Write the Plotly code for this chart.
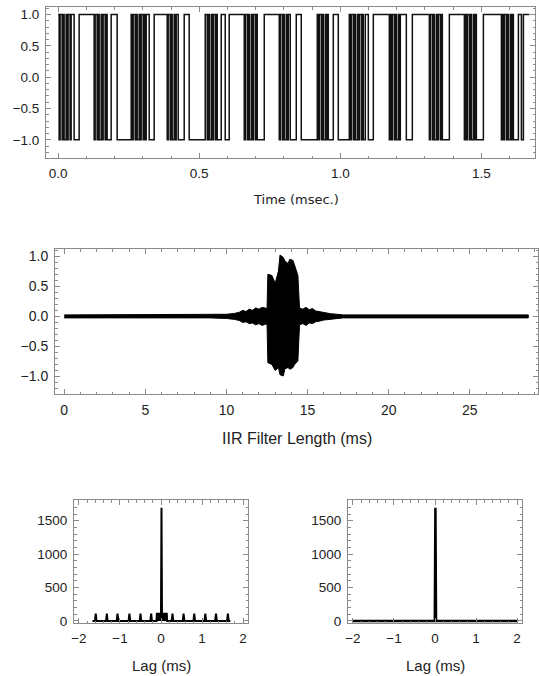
import plotly.graph_objects as go

# ---------------- data ----------------
# Top: binary excitation sequence, one character per sample (1 = +1, 0 = -1)
top_dt_ms = 0.003546
top_bits_segments = [
    "1011010010110", "111", "00000", "111111111111111",
    "01101001011010", "000", "111111", "00000000000000",
    "101101001011010", "111", "00000", "111111111111",
    "1011010010110", "00000", "11111", "000000000000000",
    "01101001011010", "000", "1111", "0000", "111111111111111",
    "01101001011010", "000000", "11111111111111",
    "1011010010110", "00000", "11111", "000000000000000",
    "010110100101", "00000", "11111", "00000000000",
    "1011010010110100", "111", "00000", "1111111111111111",
    "010110100101", "11111", "000000", "1111111111111111",
    "101101001011010", "000000", "111111111111111",
    "010110100101", "0000000", "111111111111111111",
    "010110100101", "00000", "111", "00", "111111",
]

# Middle: IIR filter impulse response envelope (ms, upper, lower)
iir_t = [0.0, 9.0, 9.5, 10.0, 10.5, 10.8, 11.0, 11.2, 11.4, 11.6, 11.8, 12.0, 12.2,
         12.4, 12.5, 12.55, 12.8, 13.0, 13.2, 13.3, 13.5, 13.6, 13.8, 13.9, 14.1,
         14.2, 14.4, 14.5, 14.7, 14.9, 15.1, 15.3, 15.5, 15.7, 16.0, 16.4, 16.8,
         17.2, 28.6]
iir_upper = [0.025, 0.025, 0.03, 0.035, 0.05, 0.07, 0.10, 0.08, 0.12, 0.10, 0.14,
             0.12, 0.15, 0.13, 0.13, 0.70, 0.68, 0.55, 0.75, 1.02, 0.98, 0.92, 0.88,
             0.95, 0.93, 0.85, 0.68, 0.14, 0.12, 0.15, 0.11, 0.13, 0.09, 0.08, 0.06,
             0.045, 0.035, 0.025, 0.025]
iir_lower = [-0.025, -0.025, -0.03, -0.035, -0.05, -0.07, -0.10, -0.09, -0.12, -0.11,
             -0.14, -0.12, -0.15, -0.13, -0.13, -0.77, -0.80, -0.90, -0.85, -0.97,
             -0.99, -0.87, -0.85, -0.88, -0.85, -0.80, -0.74, -0.14, -0.12, -0.15,
             -0.11, -0.12, -0.09, -0.08, -0.06, -0.045, -0.035, -0.025, -0.025]

# Bottom left: autocorrelation with periodic sidelobes
acf1_lag = [-1.67, -1.61, -1.59, -1.57, -1.34, -1.32, -1.30, -1.08, -1.06, -1.04,
            -0.79, -0.77, -0.75, -0.52, -0.50, -0.48, -0.26, -0.24, -0.22, -0.11,
            -0.10, 0.00, 0.012, 0.024, 0.14, 0.15, 0.26, 0.28, 0.30, 0.53, 0.55,
            0.57, 0.79, 0.81, 0.83, 1.06, 1.08, 1.10, 1.32, 1.34, 1.36, 1.61, 1.63,
            1.65, 1.69]
acf1_val = [0, 0, 110, 0, 0, 110, 0, 0, 110, 0,
            0, 110, 0, 0, 110, 0, 0, 110, 0, 0,
            110, 110, 1695, 110, 110, 0, 0, 110, 0, 0, 110,
            0, 0, 110, 0, 0, 110, 0, 0, 110, 0, 0, 110,
            0, 0]

# Bottom right: autocorrelation, single peak
acf2_lag = [-2.0, -0.005, 0.01, 0.025, 2.0]
acf2_val = [0, 0, 1695, 0, 0]

# ---------------- build series ----------------
bits = "".join(top_bits_segments)
top_t = [i * top_dt_ms for i in range(len(bits) + 1)]
top_y = [1 if b == "1" else -1 for b in bits]
top_y.append(top_y[-1])

W, H = 539, 676
FRAME = "#8a8a8a"
TXT = "#222222"


def dom_x(a, b):
    return [a / W, b / W]


def dom_y(top, bottom):
    return [1 - bottom / H, 1 - top / H]


def axis(domain, rng, dtick, minor_dtick, fmt, fsize, anchor, tick0=0):
    return dict(
        domain=domain, range=rng, dtick=dtick, tick0=tick0, tickformat=fmt,
        ticks="inside", ticklen=5, tickwidth=1, tickcolor=FRAME,
        minor=dict(dtick=minor_dtick, tick0=tick0, ticks="inside", ticklen=2.5,
                   tickwidth=1, tickcolor=FRAME, showgrid=False),
        showline=True, linecolor=FRAME, linewidth=1, mirror="ticks",
        showgrid=False, zeroline=False, anchor=anchor, automargin=False,
        tickfont=dict(family="Liberation Sans", size=fsize, color=TXT),
        ticklabelstandoff=3,
    )


fig = go.Figure()

fig.add_trace(go.Scatter(x=top_t, y=top_y, mode="lines", line_shape="hv",
                         line=dict(color="#111111", width=1.5),
                         xaxis="x", yaxis="y", showlegend=False))

poly_x = iir_t + iir_t[::-1]
poly_y = iir_upper + iir_lower[::-1]
fig.add_trace(go.Scatter(x=poly_x, y=poly_y, mode="lines", fill="toself",
                         fillcolor="#000000", line=dict(color="#000000", width=1),
                         xaxis="x2", yaxis="y2", showlegend=False))

fig.add_trace(go.Scatter(x=acf1_lag, y=acf1_val, mode="lines", fill="tozeroy",
                         fillcolor="#000000", line=dict(color="#000000", width=2),
                         xaxis="x3", yaxis="y3", showlegend=False))

fig.add_trace(go.Scatter(x=acf2_lag, y=acf2_val, mode="lines",
                         line=dict(color="#000000", width=2.5),
                         xaxis="x4", yaxis="y4", showlegend=False))

fig.update_layout(
    width=W, height=H, autosize=False,
    margin=dict(l=0, r=0, t=0, b=0),
    paper_bgcolor="white", plot_bgcolor="white",
    xaxis=axis(dom_x(46, 535), [-0.043, 1.69], 0.5, 0.1, ".1f", 13.5, "y"),
    yaxis=axis(dom_y(7, 158), [-1.29, 1.12], 0.5, 0.1, ".1f", 13.5, "x"),
    xaxis2=axis(dom_x(55, 538), [-0.57, 29.2], 5, 1, "d", 14, "y2"),
    yaxis2=axis(dom_y(249, 394), [-1.29, 1.12], 0.5, 0.1, ".1f", 14, "x2"),
    xaxis3=axis(dom_x(74, 248), [-2.12, 2.12], 1, 0.2, "d", 13.5, "y3"),
    yaxis3=axis(dom_y(500, 623), [-30, 1810], 500, 100, "d", 13.5, "x3"),
    xaxis4=axis(dom_x(348, 522), [-2.12, 2.12], 1, 0.2, "d", 13.5, "y4"),
    yaxis4=axis(dom_y(500, 623), [-30, 1810], 500, 100, "d", 13.5, "x4"),
)

titles = [
    ("Time (msec.)", 296, 199, "DejaVu Sans", 13),
    ("IIR Filter Length (ms)", 297, 438, "Liberation Sans", 16),
    ("Lag (ms)", 161, 665, "Liberation Sans", 15),
    ("Lag (ms)", 435, 665, "Liberation Sans", 15),
]
for text, px, py, fam, fs in titles:
    fig.add_annotation(text=text, x=px / W, y=1 - py / H, xref="paper", yref="paper",
                       xanchor="center", yanchor="middle", showarrow=False,
                       font=dict(family=fam, size=fs, color=TXT))

fig.write_html(
    "out.html",
    config={"displayModeBar": False, "staticPlot": True},
    post_script="document.body.style.margin='0';document.body.style.padding='0';"
                "document.documentElement.style.overflow='hidden';",
)
